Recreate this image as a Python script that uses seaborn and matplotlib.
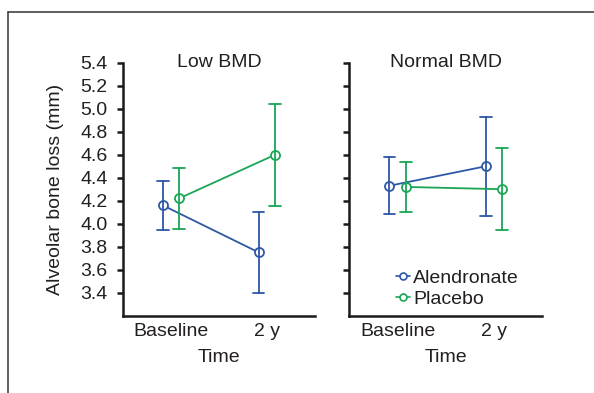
import matplotlib
matplotlib.use("Agg")
import matplotlib.pyplot as plt
from matplotlib.lines import Line2D
import pandas as pd
import seaborn as sns

panels = ["Low BMD", "Normal BMD"]
times = ["Baseline", "2 y"]
groups = ["Alendronate", "Placebo"]

# mean values and error bar half-widths (mm)
low_alendronate = [4.16, 3.75]
low_alendronate_err = [0.215, 0.355]
low_placebo = [4.22, 4.60]
low_placebo_err = [0.265, 0.445]
normal_alendronate = [4.33, 4.50]
normal_alendronate_err = [0.25, 0.43]
normal_placebo = [4.32, 4.30]
normal_placebo_err = [0.215, 0.355]

yticks = [3.4, 3.6, 3.8, 4.0, 4.2, 4.4, 4.6, 4.8, 5.0, 5.2, 5.4]

series = {
    ("Low BMD", "Alendronate"): (low_alendronate, low_alendronate_err),
    ("Low BMD", "Placebo"): (low_placebo, low_placebo_err),
    ("Normal BMD", "Alendronate"): (normal_alendronate, normal_alendronate_err),
    ("Normal BMD", "Placebo"): (normal_placebo, normal_placebo_err),
}

# each point stored as its lower and upper bar end; mean of the two is the point,
# the 0-100 percentile interval is the error bar
rows = []
for (panel, group), (means, errs) in series.items():
    for t, m, e in zip(times, means, errs):
        rows.append(dict(panel=panel, group=group, time=t, loss=m - e))
        rows.append(dict(panel=panel, group=group, time=t, loss=m + e))
df = pd.DataFrame(rows)

sns.set_style("white")
plt.rcParams["font.family"] = ["Liberation Sans", "DejaVu Sans"]
text_color = "#231f20"
fs = 14
palette = {"Alendronate": "#2d58a6", "Placebo": "#1aa656"}

fig = plt.figure(figsize=(5.94, 3.93), dpi=100)
ax1 = fig.add_axes([0.207, 0.197, 0.323, 0.643])
ax2 = fig.add_axes([0.588, 0.197, 0.325, 0.643])

for ax, panel in zip([ax1, ax2], panels):
    sns.pointplot(
        data=df[df.panel == panel], x="time", y="loss", hue="group",
        order=times, hue_order=groups, palette=palette,
        estimator="mean", errorbar=("pi", 100), dodge=0.17,
        markers="o", markersize=6.5, markerfacecolor="white", markeredgewidth=1.3,
        linewidth=1.3, capsize=0.12, err_kws={"linewidth": 1.3},
        legend=False, ax=ax,
    )
    ax.set_ylim(3.2, 5.4)
    ax.set_xlim(-0.5, 1.5)
    ax.set_yticks(yticks)
    ax.set_yticklabels([f"{v:.1f}" for v in yticks])
    sns.despine(ax=ax)
    for s in ["left", "bottom"]:
        ax.spines[s].set_linewidth(1.8)
        ax.spines[s].set_color("#1a1a1a")
    ax.tick_params(axis="y", length=4, width=1.8, color="#1a1a1a", pad=7,
                   labelsize=fs, labelcolor=text_color, left=True)
    ax.tick_params(axis="x", length=0, pad=5, labelsize=fs, labelcolor=text_color)
    ax.set_xlabel("Time", fontsize=fs, color=text_color, labelpad=7)
    ax.text(0.5, 5.4, panel, ha="center", va="center", fontsize=fs, color=text_color)

ax1.set_ylabel("Alveolar bone loss (mm)", fontsize=fs, color=text_color, labelpad=12)
ax2.set_ylabel("")
ax2.set_yticklabels([])

handles = [
    Line2D([], [], color=palette[g], marker="o", markersize=5,
           markerfacecolor="white", markeredgewidth=1.2, linewidth=1.2)
    for g in groups
]
leg = ax2.legend(handles, groups, loc="lower left", bbox_to_anchor=(0.2, 0.0),
                 frameon=False, fontsize=fs, handlelength=0.75,
                 handletextpad=0.15, labelspacing=0.15, borderaxespad=0.0)
for t in leg.get_texts():
    t.set_color(text_color)

# partial frame around the figure (top and left edges)
fig.add_artist(Line2D([0.014, 1.0], [0.969, 0.969], color="#333333", linewidth=1.1))
fig.add_artist(Line2D([0.014, 0.014], [0.0, 0.969], color="#333333", linewidth=1.1))

fig.savefig("out.png", dpi=100)
